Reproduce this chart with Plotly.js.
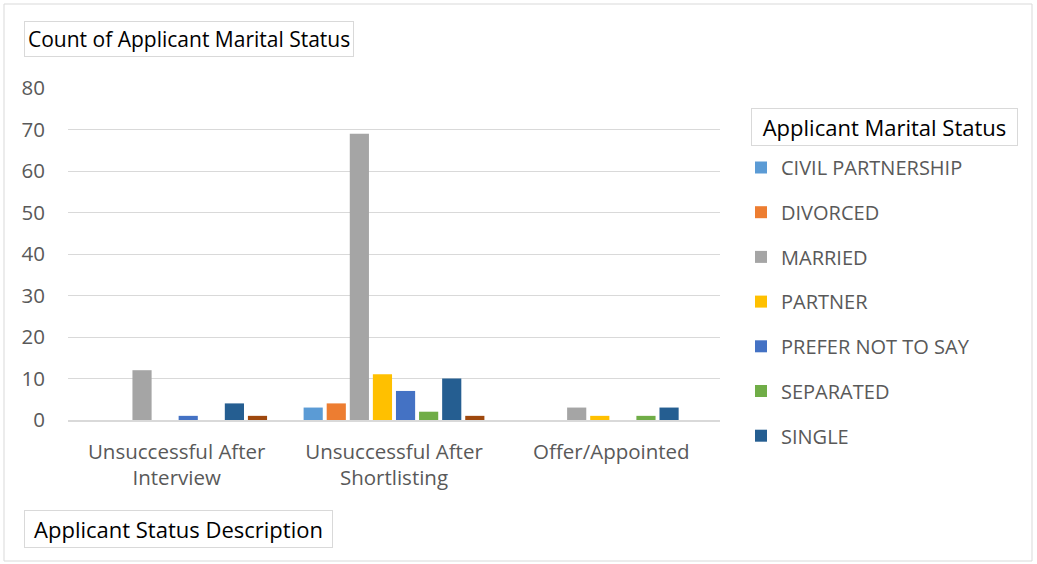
<!DOCTYPE html>
<html>
<head>
<meta charset="utf-8">
<script src="https://cdn.plot.ly/plotly-3.0.1.min.js"></script>
<style>
html,body{margin:0;padding:0;background:#fff;}
#chart{width:1037px;height:564px;}
</style>
</head>
<body>
<div id="chart"></div>
<script>
const categories = ["Unsuccessful After<br>Interview", "Unsuccessful After<br>Shortlisting", "Offer/Appointed"];
const seriesNames = ["CIVIL PARTNERSHIP", "DIVORCED", "MARRIED", "PARTNER", "PREFER NOT TO SAY", "SEPARATED", "SINGLE", "WIDOWED"];
const civilPartnership = [0, 3, 0];
const divorced = [0, 4, 0];
const married = [12, 69, 3];
const partner = [0, 11, 1];
const preferNotToSay = [1, 7, 0];
const separated = [0, 2, 1];
const single = [4, 10, 3];
const widowed = [1, 1, 0];
const seriesValues = [civilPartnership, divorced, married, partner, preferNotToSay, separated, single, widowed];
const colors = ["#5B9BD5", "#ED7D31", "#A5A5A5", "#FFC000", "#4472C4", "#70AD47", "#255E91", "#9E480E"];
const yTicks = [0, 10, 20, 30, 40, 50, 60, 70, 80];

const FONT = "'Open Sans', Lato, sans-serif";

const traces = seriesNames.map((n, i) => ({
  type: "bar",
  name: n,
  x: categories,
  y: seriesValues[i],
  marker: {color: colors[i]},
  legendgroup: "g" + i,
  showlegend: i < 7,
  hoverinfo: "x+y+name"
}));

// plot area geometry in px
const L = 68, R = 720, T = 88, B = 420;
const W = R - L, H = B - T;
const px = v => (v - L) / W;
const py = v => (B - v) / H;

const layout = {
  width: 1037, height: 564,
  margin: {l: L, r: 1037 - R, t: T, b: 564 - B, pad: 0},
  paper_bgcolor: "#fff", plot_bgcolor: "#fff",
  font: {family: FONT, size: 20, color: "#595959"},
  barmode: "group",
  bargap: 0.15,
  bargroupgap: 0.17,
  showlegend: true,
  legend: {
    x: px(741), xanchor: "left",
    y: py(148), yanchor: "top",
    tracegroupgap: 15.7,
    font: {family: FONT, size: 20, color: "#595959"},
    bgcolor: "rgba(0,0,0,0)",
    itemclick: false
  },
  xaxis: {
    type: "category",
    showgrid: false,
    showline: true, linecolor: "#D9D9D9", linewidth: 2,
    ticks: "", ticklabelstandoff: 12,
    tickfont: {family: FONT, size: 20.5, color: "#595959"},
    fixedrange: true
  },
  yaxis: {
    range: [0, 80],
    tickvals: yTicks,
    ticktext: yTicks.map(String),
    showgrid: true, gridcolor: "#D9D9D9", gridwidth: 1,
    zeroline: false, showline: false,
    ticks: "", ticklabelstandoff: 22,
    tickfont: {family: FONT, size: 20.5, color: "#595959"},
    fixedrange: true
  },
  annotations: [
    {text: "Count of Applicant Marital Status", xref: "paper", yref: "paper",
     x: px(24), xanchor: "left", y: py(39), yanchor: "middle", showarrow: false,
     font: {family: FONT, size: 21, color: "#000"}, bordercolor: "#D9D9D9", borderwidth: 1, borderpad: 3, bgcolor: "#fff"},
    {text: "Applicant Status Description", xref: "paper", yref: "paper",
     x: px(24), xanchor: "left", y: py(529), yanchor: "middle", showarrow: false,
     width: 301, align: "center",
     font: {family: FONT, size: 22, color: "#000"}, bordercolor: "#D9D9D9", borderwidth: 1, borderpad: 3, bgcolor: "#fff"},
    {text: "Applicant Marital Status", xref: "paper", yref: "paper",
     x: px(751), xanchor: "left", y: py(127), yanchor: "middle", showarrow: false,
     width: 259, align: "center",
     font: {family: FONT, size: 22, color: "#000"}, bordercolor: "#D9D9D9", borderwidth: 1, borderpad: 3, bgcolor: "#fff"}
  ],
  shapes: [
    {type: "rect", xref: "paper", yref: "paper",
     x0: px(4), x1: px(1032), y0: py(561), y1: py(4),
     line: {color: "#D9D9D9", width: 1}, fillcolor: "rgba(0,0,0,0)", layer: "below"}
  ]
};

Plotly.newPlot("chart", traces, layout, {displayModeBar: false});
</script>
</body>
</html>
